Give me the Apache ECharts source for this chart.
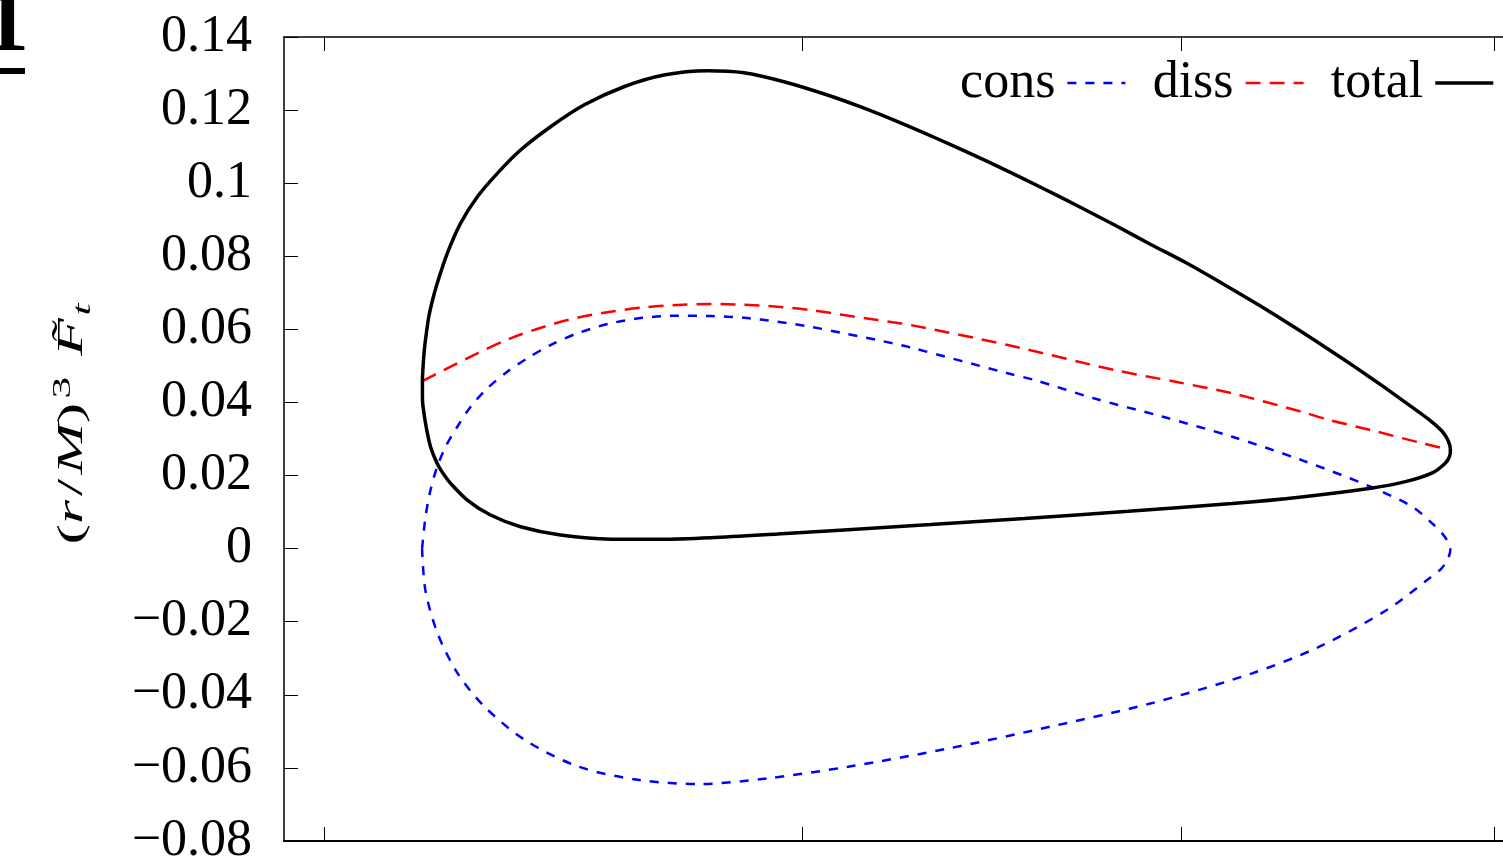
<!DOCTYPE html>
<html>
<head>
<meta charset="utf-8">
<script src="https://cdn.jsdelivr.net/npm/echarts@6/dist/echarts.min.js"></script>
<style>
  html, body { margin: 0; padding: 0; background: #ffffff; }
  #chart { width: 1503px; height: 859px; }
</style>
</head>
<body>
<div id="chart"></div>
<script>
// Orbital radius r/M (log axis) against the scaled flux (r/M)^3 F_t over one orbit.
const seriesNames = ['cons', 'diss', 'total'];

// conservative part: closed loop, pericentre -> apocentre (upper) -> pericentre (lower)
const consR = [10.550, 10.570, 10.599, 10.638, 10.687, 10.756, 10.835, 10.930, 11.055, 11.177,
  11.321, 11.488, 11.700, 11.916, 12.137, 12.361, 12.589, 12.822, 13.058, 13.299,
  13.545, 13.795, 14.550, 14.767, 15.254, 15.843, 16.458, 17.095, 17.757, 18.167,
  18.374, 18.496, 18.552, 18.526, 18.455, 18.316, 17.914, 17.264, 16.638, 15.741,
  14.892, 14.089, 13.329, 12.752, 12.289, 11.887, 11.498, 11.163, 10.918, 10.758,
  10.640, 10.569, 10.550];
const consF = [0, 0.00873, 0.01604, 0.02241, 0.02788, 0.03336, 0.03883, 0.04367, 0.04841, 0.05207,
  0.05571, 0.05891, 0.06165, 0.06318, 0.06373, 0.06365, 0.06318, 0.06209, 0.06072, 0.05891,
  0.05708, 0.05503, 0.04797, 0.04613, 0.04113, 0.03609, 0.03062, 0.02424, 0.01694, 0.01147,
  0.00673, 0.00317, 0, -0.00285, -0.00558, -0.00859, -0.01680, -0.02684, -0.03412, -0.04233,
  -0.04873, -0.05465, -0.05968, -0.06285, -0.06441, -0.06332, -0.05968, -0.05237, -0.04326, -0.03412,
  -0.02318, -0.01133, 0];

// dissipative part: same on both halves of the orbit
const dissR = [10.552, 10.677, 10.875, 11.075, 11.280, 11.488, 11.700, 11.916, 12.137, 12.361,
  12.589, 12.822, 13.058, 13.299, 13.545, 13.795, 14.550, 15.430, 15.965, 16.458,
  17.095, 17.360, 17.757, 18.271, 18.552];
const dissF = [0.04586, 0.04887, 0.05344, 0.05755, 0.06072, 0.06318, 0.06482, 0.06603, 0.06666, 0.06693,
  0.06674, 0.06619, 0.06529, 0.06392, 0.06255, 0.06118, 0.05571, 0.04887, 0.04559, 0.04250,
  0.03746, 0.03519, 0.03245, 0.02881, 0.02698];

// total: closed loop
const totalR = [10.552, 10.552, 10.556, 10.563, 10.575, 10.589, 10.611, 10.638, 10.697, 10.775,
  10.875, 10.995, 11.136, 11.321, 11.530, 11.786, 12.048, 12.338, 12.589, 12.868,
  13.179, 13.437, 13.705, 13.986, 14.268, 14.550, 14.840, 15.133, 15.433, 15.738,
  16.050, 16.368, 16.692, 17.023, 17.360, 17.614, 17.886, 18.154, 18.354, 18.465,
  18.526, 18.552, 18.541, 18.496, 18.374, 18.099, 17.758, 17.096, 16.458, 15.546,
  14.685, 13.948, 13.299, 12.822, 12.361, 12.026, 11.700, 11.383, 11.136, 10.954,
  10.815, 10.716, 10.681, 10.648, 10.621, 10.599, 10.583, 10.570, 10.560, 10.553,
  10.552];
const totalF = [0.04285, 0.04586, 0.04997, 0.05434, 0.05900, 0.06346, 0.06803, 0.07260, 0.08080, 0.08901,
  0.09629, 0.10270, 0.10907, 0.11545, 0.12138, 0.12639, 0.12959, 0.13077, 0.13022, 0.12776,
  0.12412, 0.12065, 0.11671, 0.11236, 0.10787, 0.10330, 0.09848, 0.09356, 0.08847, 0.08324,
  0.07815, 0.07257, 0.06680, 0.06072, 0.05437, 0.04953, 0.04425, 0.03894, 0.03492, 0.03218,
  0.02972, 0.02698, 0.02507, 0.02329, 0.02082, 0.01833, 0.01653, 0.01415, 0.01234, 0.01021,
  0.00826, 0.00659, 0.00512, 0.00402, 0.00301, 0.00260, 0.00260, 0.00372, 0.00599, 0.00919,
  0.01330, 0.01787, 0.02000, 0.02241, 0.02507, 0.02788, 0.03109, 0.03429, 0.03738, 0.04011,
  0.04285];

// axes
const rTicks = [10, 13, 16, 19];
const rMin = 9.78, rMax = 19.2;
const fMin = -0.08, fMax = 0.14, fStep = 0.02;

const zip = (xs, ys) => xs.map((x, i) => [x, ys[i]]);
const serif = "'Liberation Serif', 'DejaVu Serif', serif";

const chart = echarts.init(document.getElementById('chart'), null, { renderer: 'canvas' });

const xAxisBase = {
  type: 'log',
  logBase: 10,
  min: rMin,
  max: rMax,
  axisTick: { show: true, inside: true, length: 14, customValues: rTicks, lineStyle: { color: '#000', width: 1 } },
  axisLabel: { show: false },
  splitLine: { show: false },
  minorTick: { show: false }
};

const richBase = { fontFamily: serif, fontWeight: 'normal', fill: '#000' };

chart.setOption({
  animation: false,
  backgroundColor: '#ffffff',
  grid: { left: 284, top: 37, width: 1229, height: 804, containLabel: false, outerBoundsMode: 'none' },
  legend: {
    data: seriesNames,
    right: 3,
    top: 52,
    align: 'right',
    itemWidth: 58,
    itemHeight: 14,
    itemGap: 26,
    textStyle: { fontFamily: serif, fontSize: 52, color: '#000', padding: [0, 7, 0, 0] },
    itemStyle: { opacity: 0 },
    lineStyle: { width: 'inherit' }
  },
  xAxis: [
    Object.assign({}, xAxisBase, {
      position: 'bottom',
      axisLine: { show: true, onZero: false, lineStyle: { color: '#000', width: 2 } }
    }),
    Object.assign({}, xAxisBase, {
      position: 'top',
      axisLine: { show: true, onZero: false, lineStyle: { color: '#000', width: 1.5 } }
    })
  ],
  yAxis: {
    type: 'value',
    position: 'left',
    min: fMin,
    max: fMax,
    interval: fStep,
    axisLine: { show: true, onZero: false, lineStyle: { color: '#000', width: 1.5 } },
    axisTick: { show: true, inside: true, length: 14, lineStyle: { color: '#000', width: 1 } },
    splitLine: { show: false },
    axisLabel: {
      show: true,
      margin: 32,
      fontFamily: serif,
      fontSize: 52,
      color: '#000',
      formatter: v => (Math.round(v * 100) / 100).toString().replace('-', '\u2212')
    }
  },
  graphic: [
    {
      type: 'text',
      x: 73,
      y: 424,
      rotation: Math.PI / 2,
      scaleX: 1.4,
      scaleY: 0.8,
      style: {
        text: '{p|(}{i|r}{sl|/}{i|M}{p|)}{sup|3}{p| }{i|F\u0303}{sub|t}',
        align: 'center',
        verticalAlign: 'middle',
        fill: '#000',
        rich: {
          p: Object.assign({}, richBase, { fontSize: 44, lineHeight: 56 }),
          sl: Object.assign({}, richBase, { fontSize: 44, lineHeight: 56, padding: [0, 3, 0, 3] }),
          i: Object.assign({}, richBase, { fontStyle: 'italic', fontSize: 44, lineHeight: 56 }),
          sup: Object.assign({}, richBase, { fontSize: 31, lineHeight: 31, verticalAlign: 'top', padding: [0, 4, 0, 3] }),
          sub: Object.assign({}, richBase, { fontStyle: 'italic', fontSize: 31, lineHeight: 31, verticalAlign: 'bottom', padding: [0, 0, 0, 2] })
        }
      }
    },
    {
      type: 'text',
      x: -16,
      y: -18,
      style: {
        text: '1',
        font: "bold 90px 'Liberation Serif', serif",
        fill: '#000',
        align: 'left',
        verticalAlign: 'top'
      }
    },
    {
      type: 'rect',
      shape: { x: 0, y: 68, width: 25, height: 6 },
      style: { fill: '#000' }
    }
  ],
  series: [
    {
      name: 'cons',
      type: 'line',
      data: zip(consR, consF),
      symbol: 'none',
      smooth: 0.3,
      z: 2,
      lineStyle: { color: '#0000ff', width: 2.5, type: [9, 9] },
      itemStyle: { color: '#0000ff' }
    },
    {
      name: 'diss',
      type: 'line',
      data: zip(dissR, dissF),
      symbol: 'none',
      smooth: 0.3,
      z: 3,
      lineStyle: { color: '#ff0000', width: 2.5, type: [15, 9] },
      itemStyle: { color: '#ff0000' }
    },
    {
      name: 'total',
      type: 'line',
      data: zip(totalR, totalF),
      symbol: 'none',
      smooth: 0.3,
      z: 4,
      lineStyle: { color: '#000000', width: 3.5, type: 'solid' },
      itemStyle: { color: '#000000' }
    }
  ]
});
</script>
</body>
</html>
